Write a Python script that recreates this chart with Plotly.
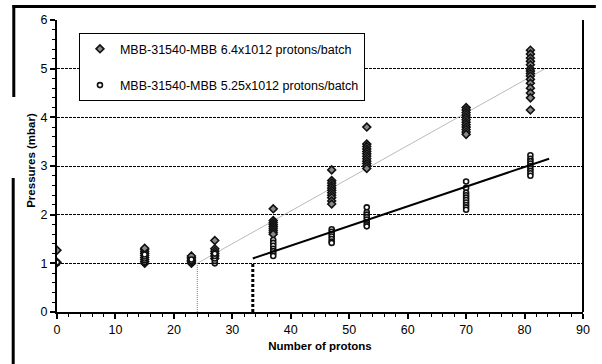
import plotly.graph_objects as go

# Bunch-train pressure measurements, MBB-31540-MBB
# x: number of protons bunches, y: pressure (mbar)
x_hi = [0, 0,
        15, 15, 15, 15, 15, 15, 15, 15, 15,
        23, 23, 23, 23, 23, 23,
        27, 27, 27, 27, 27, 27,
        37, 37, 37, 37, 37, 37, 37, 37, 37,
        47, 47, 47, 47, 47, 47, 47, 47, 47, 47, 47,
        53, 53, 53, 53, 53, 53, 53, 53, 53, 53, 53, 53,
        70, 70, 70, 70, 70, 70, 70, 70, 70, 70, 70, 70,
        81, 81, 81, 81, 81, 81, 81, 81, 81, 81, 81, 81, 81, 81, 81]
y_hi = [1.27, 1.02,
        1.0, 1.04, 1.08, 1.12, 1.16, 1.2, 1.24, 1.28, 1.31,
        1.0, 1.03, 1.06, 1.09, 1.12, 1.15,
        1.47, 1.3, 1.25, 1.2, 1.15, 1.1,
        2.12, 1.88, 1.84, 1.8, 1.76, 1.72, 1.68, 1.64, 1.6,
        2.92, 2.7, 2.65, 2.6, 2.55, 2.5, 2.45, 2.4, 2.35, 2.28, 2.22,
        3.8, 3.45, 3.4, 3.35, 3.3, 3.25, 3.2, 3.15, 3.1, 3.05, 3.0, 2.95,
        4.2, 4.15, 4.1, 4.05, 4.0, 3.95, 3.9, 3.85, 3.8, 3.75, 3.7, 3.65,
        5.38, 5.3, 5.22, 5.15, 5.08, 5.0, 4.95, 4.9, 4.85, 4.78, 4.7, 4.6, 4.5, 4.4, 4.15]

x_lo = [0, 0,
        15, 15, 15, 15, 15,
        23, 23, 23,
        27, 27, 27, 27, 27,
        37, 37, 37, 37, 37, 37, 37,
        47, 47, 47, 47, 47, 47, 47,
        53, 53, 53, 53, 53, 53, 53, 53,
        70, 70, 70, 70, 70, 70, 70, 70, 70, 70,
        81, 81, 81, 81, 81, 81, 81, 81, 81]
y_lo = [1.0, 1.02,
        1.02, 1.06, 1.1, 1.14, 1.18,
        1.02, 1.05, 1.08,
        1.0, 1.05, 1.1, 1.15, 1.2,
        1.48, 1.42, 1.36, 1.3, 1.25, 1.2, 1.15,
        1.7, 1.65, 1.6, 1.55, 1.5, 1.45, 1.42,
        2.15, 2.05, 2.0, 1.95, 1.9, 1.85, 1.8, 1.76,
        2.68, 2.55, 2.45, 2.4, 2.35, 2.3, 2.25, 2.2, 2.15, 2.1,
        3.22, 3.15, 3.1, 3.05, 3.0, 2.95, 2.9, 2.85, 2.8]

# Linear trends and their thresholds
trend_hi_x = [24, 83.5]
trend_hi_y = [1.0, 5.0]
trend_lo_x = [33.5, 84.2]
trend_lo_y = [1.1, 3.15]
thr_hi_x = [24, 24]
thr_lo_x = [33.5, 33.5]
thr_y = [0, 1.0]

name_hi = "MBB-31540-MBB 6.4x1012 protons/batch"
name_lo = "MBB-31540-MBB 5.25x1012 protons/batch"

W, H = 602, 364
L, R, T, B = 57, 589, 20, 312


def px(xp):
    return (xp - L) / (R - L)


def py(yp):
    return (B - yp) / (B - T)


fig = go.Figure()

fig.add_trace(go.Scatter(x=thr_hi_x, y=thr_y, mode="lines", showlegend=False,
                         line=dict(color="#777", width=1, dash="1px,1px")))
fig.add_trace(go.Scatter(x=thr_lo_x, y=thr_y, mode="lines", showlegend=False,
                         line=dict(color="black", width=3, dash="3px,2px")))
fig.add_trace(go.Scatter(x=trend_hi_x, y=trend_hi_y, mode="lines", showlegend=False,
                         line=dict(color="#bbb", width=1)))

fig.add_trace(go.Scatter(
    x=x_hi, y=y_hi, mode="markers", name=name_hi, legendgroup="a",
    marker=dict(symbol="diamond", size=6, color="#8a8a8a",
                line=dict(color="#111", width=1.6))))
fig.add_trace(go.Scatter(
    x=x_lo, y=y_lo, mode="markers", name=name_lo, legendgroup="b",
    marker=dict(symbol="circle", size=5, color="white",
                line=dict(color="#111", width=1.6))))

fig.add_trace(go.Scatter(x=trend_lo_x, y=trend_lo_y, mode="lines", showlegend=False,
                         line=dict(color="black", width=2)))

shapes = [
    # right frame
    dict(type="line", xref="paper", yref="paper", x0=1, x1=1, y0=0, y1=1,
         line=dict(color="black", width=2)),
    # heavy border strokes
    dict(type="line", xref="paper", yref="paper", x0=px(12), x1=px(602),
         y0=py(6.5), y1=py(6.5), line=dict(color="black", width=3)),
    dict(type="line", xref="paper", yref="paper", x0=px(13.3), x1=px(13.3),
         y0=py(5), y1=py(97), line=dict(color="black", width=3)),
    dict(type="line", xref="paper", yref="paper", x0=px(12.7), x1=px(12.7),
         y0=py(178), y1=py(364), line=dict(color="black", width=3)),
]

fig.update_layout(
    width=W, height=H,
    margin=dict(l=L, r=W - R, t=T, b=H - B),
    paper_bgcolor="white", plot_bgcolor="white",
    font=dict(family="Arial, Liberation Sans, sans-serif", size=12, color="black"),
    shapes=shapes,
    showlegend=True,
    legend=dict(x=px(79), y=py(33), xanchor="left", yanchor="top",
                bgcolor="white", bordercolor="black", borderwidth=1.2,
                font=dict(size=12.5), tracegroupgap=17, itemwidth=30),
    annotations=[dict(text="<b>Pressures (mbar)</b>", textangle=-90,
                      xref="paper", yref="paper", x=px(30.5), y=py(160),
                      xanchor="center", yanchor="middle",
                      showarrow=False, font=dict(size=11.5))],
)

fig.update_xaxes(
    range=[0, 90], dtick=10, tick0=0, showgrid=False, zeroline=False,
    showline=True, linecolor="black", linewidth=2,
    ticks="outside", ticklen=5, tickwidth=1.5, tickcolor="black",
    tickfont=dict(size=12.5),
    minor=dict(dtick=2, ticks="outside", ticklen=3, tickwidth=1, tickcolor="black"),
    title=dict(text="<b>Number of protons</b>", font=dict(size=11.5), standoff=6),
)
fig.update_yaxes(
    range=[0, 6], dtick=1, tick0=0, zeroline=False,
    showgrid=True, gridcolor="black", gridwidth=1, griddash="3px,1px",
    showline=True, linecolor="black", linewidth=2,
    ticks="outside", ticklen=5, tickwidth=1.5, tickcolor="black",
    tickfont=dict(size=12.5),
    minor=dict(dtick=0.2, ticks="outside", ticklen=3, tickwidth=1,
               tickcolor="black", showgrid=False),
)

fig.write_html("out.html")
